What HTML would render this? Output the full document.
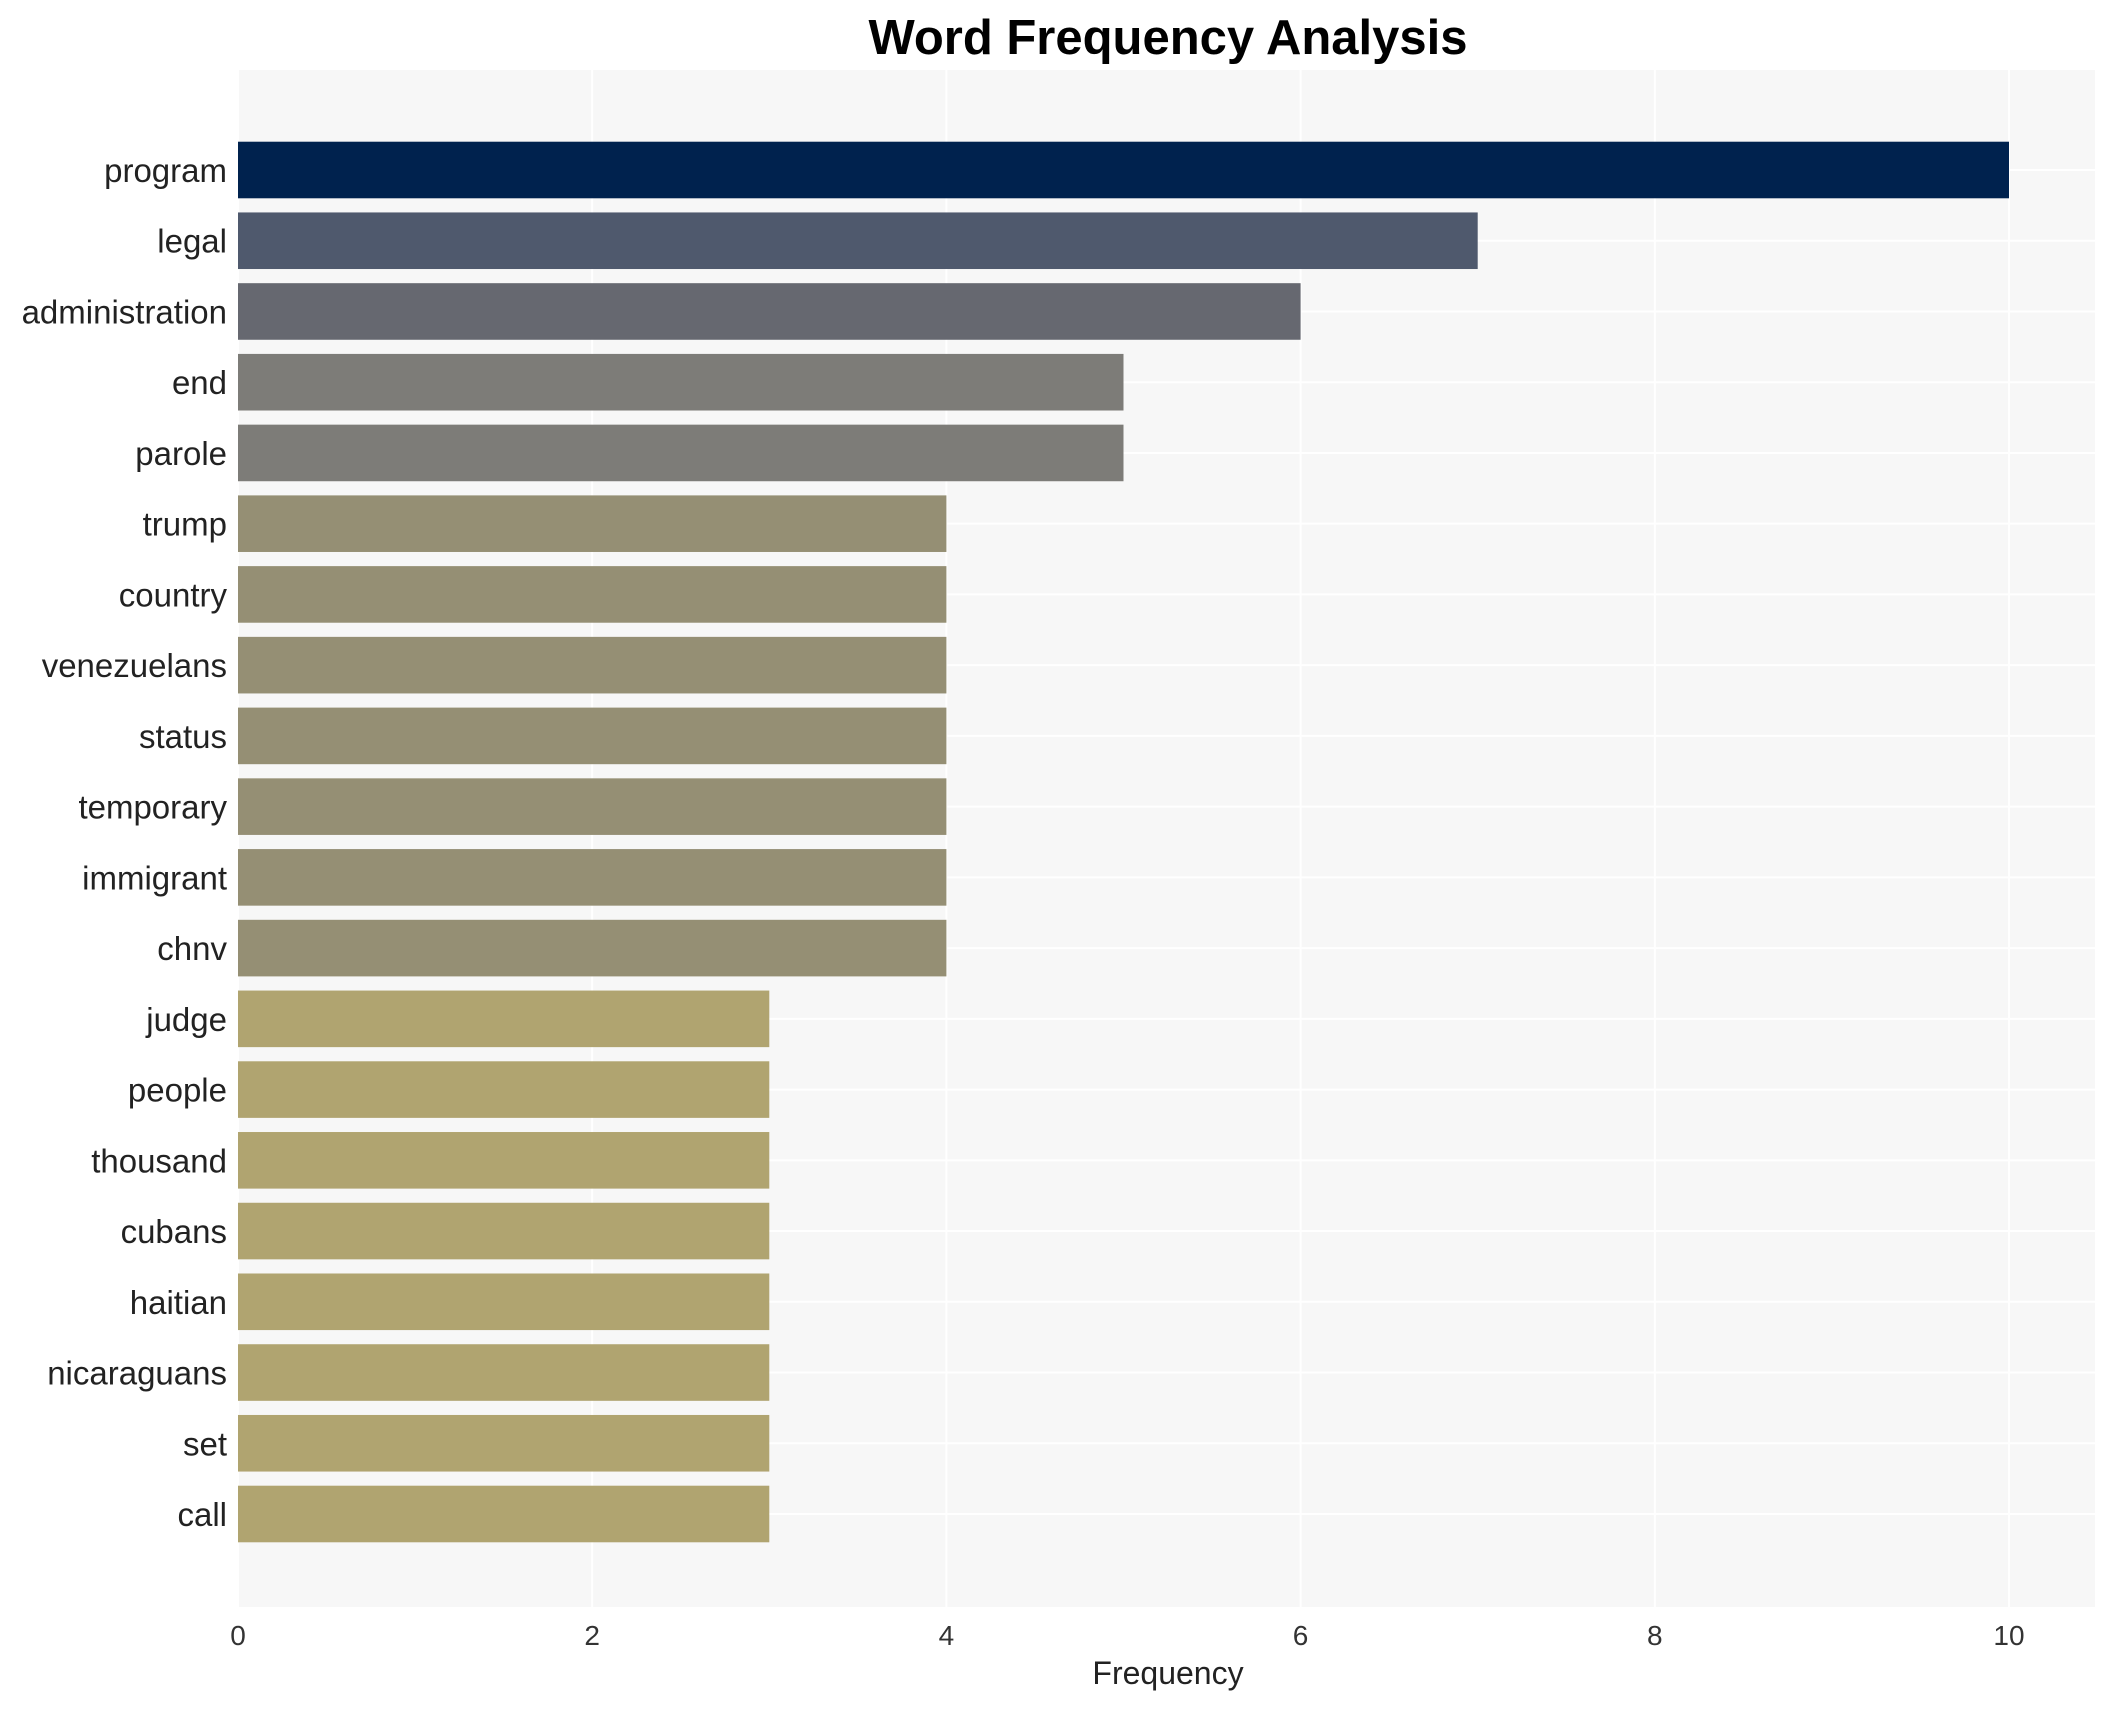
<!DOCTYPE html>
<html><head><meta charset="utf-8"><style>
body{margin:0;background:#fff;}
svg{display:block;font-family:"Liberation Sans",Arial,sans-serif;}
</style></head><body>
<svg id="chart" width="2117" height="1710">
<text x="1168" y="54" text-anchor="middle" font-size="49" font-weight="bold" fill="#000">Word Frequency Analysis</text>
<rect x="238" y="70" width="1857" height="1537" fill="#f7f7f7"/>
<g id="grid"></g><g id="bars"></g><g id="ylabels"></g><g id="xticks"></g>
<text x="1168" y="1684" text-anchor="middle" font-size="32" fill="#222">Frequency</text>
</svg>
<script>
const categories=["program","legal","administration","end","parole","trump","country","venezuelans","status","temporary","immigrant","chnv","judge","people","thousand","cubans","haitian","nicaraguans","set","call"];
const values=[10,7,6,5,5,4,4,4,4,4,4,4,3,3,3,3,3,3,3,3];
const xTicks=[0,2,4,6,8,10];
const colorByValue={10:"#00224e",7:"#4f596d",6:"#666870",5:"#7d7c78",4:"#958f74",3:"#b0a470"};
const NS="http://www.w3.org/2000/svg";
const x0=238,xUnit=(2009-238)/10,y0=170,step=(1514-170)/19,bh=step*0.8;
const xs=v=>x0+v*xUnit, ys=i=>y0+i*step;
function mk(t,a,p){const e=document.createElementNS(NS,t);for(const k in a)e.setAttribute(k,a[k]);document.getElementById(p).appendChild(e);return e;}
xTicks.forEach(t=>{
 const g=mk("line",{x1:xs(t),x2:xs(t),y1:70,y2:1607,stroke:"#fff","stroke-width":2},"grid");
 
 
 const l=mk("text",{x:xs(t),y:1645,"text-anchor":"middle","font-size":28,fill:"#333"},"xticks");
 l.textContent=t;
 
 
});
categories.forEach((c,i)=>{
 const g=mk("line",{x1:238,x2:2095,y1:ys(i),y2:ys(i),stroke:"#fff","stroke-width":2},"grid");
 
 
 const r=mk("rect",{x:x0,y:ys(i)-bh/2,width:xs(values[i])-x0,height:bh,fill:colorByValue[values[i]]},"bars");
 
 
 const l=mk("text",{x:227,y:ys(i)+12,"text-anchor":"end","font-size":33,fill:"#222"},"ylabels");
 l.textContent=c;
 
 
});
</script>
</body></html>
